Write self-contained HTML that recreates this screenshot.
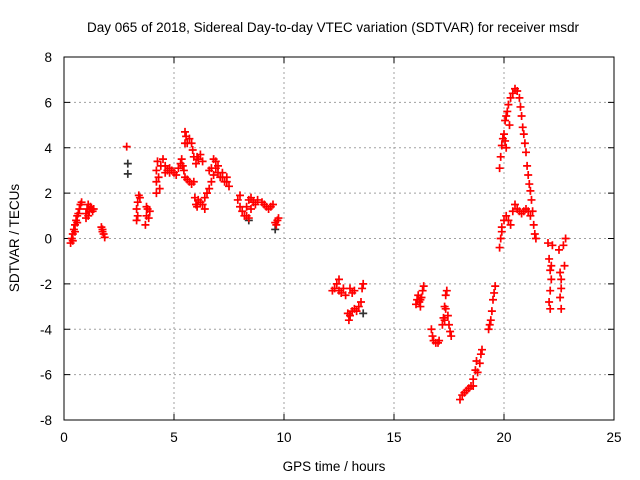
<!DOCTYPE html>
<html><head><meta charset="utf-8"><style>
body{margin:0;background:#fff}
svg{display:block;font-family:"Liberation Sans",sans-serif}
</style></head><body>
<svg id="chart" width="640" height="480" xmlns="http://www.w3.org/2000/svg">
<text x="333" y="32" font-size="13.5" text-anchor="middle">Day 065 of 2018, Sidereal Day-to-day VTEC variation (SDTVAR) for receiver msdr</text>
<text x="334" y="471" font-size="13.5" text-anchor="middle">GPS time / hours</text>
<text x="19" y="238" font-size="13.5" text-anchor="middle" transform="rotate(-90 19 238)">SDTVAR / TECUs</text>
<g id="grid"></g><g id="ticks"></g><g id="marks"></g>
<rect x="64" y="57" width="550" height="363" fill="none" stroke="#000" stroke-width="1"/>
</svg>
<script>
const xTicks=[0,5,10,15,20,25];
const yTicks=[-8,-6,-4,-2,0,2,4,6,8];
const redPoints=[
[0.3,-0.2],[0.35,0],[0.4,0.2],[0.45,0.4],[0.5,0.6],[0.55,0.8],[0.6,1.0],[0.65,1.1],[0.7,1.3],[0.75,1.5],[0.8,1.6],[0.4,-0.1],[0.5,0.3],[0.6,0.7],
[1.0,1.1],[1.05,1.3],[1.1,1.5],[1.15,1.2],[1.2,1.4],[1.25,1.3],[1.3,1.2],[1.35,1.3],[1.1,1.0],[1.0,0.9],
[1.7,0.5],[1.75,0.4],[1.8,0.2],[1.85,0.05],[1.75,0.3],
[2.85,4.05],
[3.3,1.3],[3.35,1.6],[3.4,1.9],[3.3,0.8],[3.35,1.0],[3.45,1.8],
[3.7,0.6],[3.75,1.0],[3.8,1.3],[3.85,0.9],[3.9,1.2],[3.75,1.4],
[4.2,2.0],[4.2,2.5],[4.2,3.0],[4.25,3.4],[4.3,2.7],[4.35,2.2],[4.4,3.2],[4.5,3.5],[4.6,3.2],[4.7,3.0],[4.8,2.9],[4.9,3.0],[5.0,2.9],[5.1,2.8],[5.2,3.1],[4.6,2.9],[4.8,3.1],
[5.3,3.3],[5.35,3.5],[5.4,3.2],[5.45,3.0],[5.5,2.7],[5.6,2.6],[5.7,2.5],[5.8,2.4],[5.5,4.7],[5.55,4.5],[5.5,4.2],[5.6,4.2],[5.7,4.4],[5.8,4.2],[5.85,3.9],[5.9,3.6],[5.9,2.5],[5.95,1.8],[6.0,1.5],[6.05,1.4],[6.1,1.7],[6.0,3.3],[6.05,3.6],[6.1,3.5],
[6.2,3.7],[6.3,3.4],[6.2,1.6],[6.3,1.5],[6.4,1.8],[6.5,2.0],[6.4,1.3],
[6.6,2.2],[6.7,2.5],[6.8,2.8],[6.9,3.1],[6.7,3.1],[6.8,3.5],[6.9,3.4],[7.0,3.2],[7.0,2.9],[7.1,2.7],[6.6,3.0],
[7.2,2.7],[7.3,2.5],[7.4,2.5],[7.5,2.3],[7.2,2.9],[7.4,2.7],
[7.9,1.7],[8.0,1.4],[8.1,1.2],[8.0,1.9],[8.2,1.0],[8.3,1.0],[8.4,0.9],[8.5,1.3],[8.6,1.6],[8.4,1.7],[8.3,1.4],[8.7,1.5],[8.8,1.7],[8.5,1.8],
[9.0,1.6],[9.1,1.5],[9.2,1.4],[9.3,1.3],[9.4,1.4],[9.5,1.5],
[9.6,0.7],[9.7,0.8],[9.75,0.9],[9.65,0.6],
[12.2,-2.3],[12.3,-2.2],[12.4,-2.0],[12.5,-1.8],[12.5,-2.3],[12.6,-2.4],[12.7,-2.2],[12.8,-2.5],[12.9,-3.3],[12.95,-3.6],[13.0,-3.4],[13.1,-2.4],[13.2,-2.3],[13.1,-3.2],[13.2,-3.1],[13.3,-3.2],[13.4,-3.0],[13.5,-2.8],[13.6,-2.0],[13.55,-2.2],[13.0,-2.2],
[16.0,-2.9],[16.05,-2.7],[16.1,-2.5],[16.15,-2.8],[16.2,-3.0],[16.25,-2.6],[16.3,-2.3],[16.35,-2.1],[16.2,-2.7],
[16.7,-4.0],[16.75,-4.3],[16.8,-4.5],[16.9,-4.6],[17.0,-4.6],[17.05,-4.5],
[17.2,-3.8],[17.25,-3.5],[17.3,-3.0],[17.35,-2.5],[17.4,-2.3],[17.3,-3.6],[17.35,-3.1],[17.45,-3.4],[17.5,-3.8],[17.55,-4.1],[17.6,-4.3],
[18.0,-7.1],[18.1,-6.9],[18.2,-6.8],[18.3,-6.7],[18.4,-6.6],[18.5,-6.5],[18.6,-6.2],[18.7,-5.8],[18.75,-5.4],[18.8,-5.9],[18.9,-5.5],[18.95,-5.1],[19.0,-4.9],[18.6,-6.5],
[19.3,-4.0],[19.35,-3.8],[19.4,-3.6],[19.45,-3.2],[19.5,-2.7],[19.55,-2.4],[19.6,-2.1],
[19.8,-0.4],[19.85,0],[19.9,0.3],[19.8,3.1],[19.85,3.6],[19.9,4.1],[19.95,4.4],[20.0,4.6],[20.05,5.2],[20.1,5.4],[20.15,5.6],[20.2,5.9],[20.3,6.2],[20.4,6.4],[20.5,6.6],[20.6,6.5],[20.7,6.2],[20.75,5.8],[20.8,5.4],[20.85,4.9],[20.9,4.6],[20.95,4.2],[21.0,3.8],[21.05,3.2],[21.1,2.8],[21.15,2.4],[21.2,2.1],[21.25,1.7],[21.3,1.2],[21.35,0.6],[21.4,0.2],[21.45,0],
[20.0,0.8],[20.1,1.0],[20.2,0.8],[20.3,0.6],[20.4,1.2],[20.5,1.5],[20.6,1.3],[20.7,1.2],[20.8,1.1],[20.9,1.2],[21.0,1.3],[21.1,1.2],[21.2,1.0],[19.9,0.5],[20.05,4.3],[20.25,5.0],[20.1,4.0],
[22.0,-0.2],[22.05,-0.9],[22.1,-1.4],[22.15,-1.8],[22.1,-2.3],[22.05,-2.8],[22.1,-3.1],[22.15,-1.2],[22.2,-0.3],
[22.5,-0.5],[22.55,-1.5],[22.6,-2.2],[22.55,-2.6],[22.6,-3.1],[22.7,-0.3],[22.8,0],[22.75,-1.2],[22.6,-1.8]
];
const blackPoints=[[2.9,3.3],[2.9,2.85],[8.4,0.8],[9.6,0.4],[13.0,-3.4],[13.6,-3.3]];
const X0=64,X1=614,Y0=420,Y1=57,XMIN=0,XMAX=25,YMIN=-8,YMAX=8;
const sx=v=>X0+(v-XMIN)/(XMAX-XMIN)*(X1-X0);
const sy=v=>Y0-(v-YMIN)/(YMAX-YMIN)*(Y0-Y1);
const NS="http://www.w3.org/2000/svg";
function mk(tag,attrs,parent){const e=document.createElementNS(NS,tag);for(const k in attrs)e.setAttribute(k,attrs[k]);parent.appendChild(e);return e;}
const grid=document.getElementById('grid'),ticks=document.getElementById('ticks'),marks=document.getElementById('marks');
xTicks.forEach(t=>{const x=sx(t);
 if(t>XMIN&&t<XMAX){const g=mk('line',{x1:x,x2:x,y1:Y1,y2:Y0,stroke:'#a0a0a0','stroke-dasharray':'2,3'},grid);
 
 }
 mk('line',{x1:x,x2:x,y1:Y0,y2:Y0-6,stroke:'#000'},ticks);
 mk('line',{x1:x,x2:x,y1:Y1,y2:Y1+6,stroke:'#000'},ticks);
 const l=mk('text',{x:x,y:Y0+22,'font-size':13.5,'text-anchor':'middle'},ticks);l.textContent=t;
 
 
});
yTicks.forEach(t=>{const y=sy(t);
 if(t>YMIN&&t<YMAX){const g=mk('line',{x1:X0,x2:X1,y1:y,y2:y,stroke:'#a0a0a0','stroke-dasharray':'2,3'},grid);
 
 }
 mk('line',{x1:X0,x2:X0+6,y1:y,y2:y,stroke:'#000'},ticks);
 mk('line',{x1:X1,x2:X1-6,y1:y,y2:y,stroke:'#000'},ticks);
 const l=mk('text',{x:X0-12,y:y+5,'font-size':13.5,'text-anchor':'end'},ticks);l.textContent=t;
 
 
});
function plus(p,color,name){const x=sx(p[0]),y=sy(p[1]);
 const e=mk('path',{d:`M${x-4},${y}H${x+4}M${x},${y-4}V${y+4}`,stroke:color,'stroke-width':1.7,fill:'none'},marks);
 
 }
blackPoints.forEach(p=>plus(p,'#333','reference-point'));
redPoints.forEach(p=>plus(p,'#ff0000','sdtvar-point'));
</script>
</body></html>
